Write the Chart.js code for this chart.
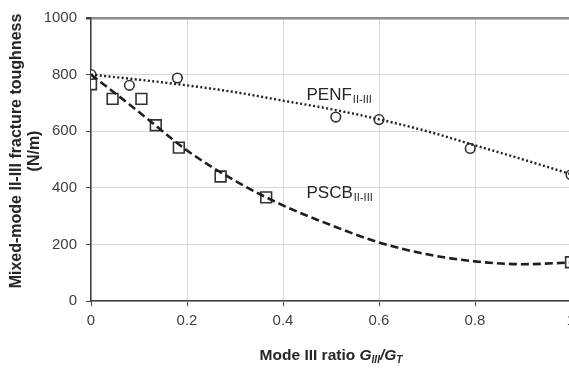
<!DOCTYPE html>
<html>
<head>
<meta charset="utf-8">
<script src="https://cdn.jsdelivr.net/npm/chart.js@4/dist/chart.umd.min.js"></script>
<style>
  html, body { margin: 0; padding: 0; background: #fff; }
  #wrap { width: 569px; height: 368px; overflow: hidden; }
</style>
</head>
<body>
<div id="wrap"><canvas id="chart" width="600" height="368"></canvas></div>
<script>
// measured points
const penfX = [0, 0.08, 0.18, 0.51, 0.60, 0.79, 1.0];
const penfY = [800, 762, 788, 650, 641, 539, 446];
const pscbX = [0, 0.045, 0.105, 0.135, 0.183, 0.27, 0.365, 1.0];
const pscbY = [766, 714, 714, 621, 542, 440, 366, 137];

// trend curves
const trendX = [0, 0.1, 0.2, 0.3, 0.4, 0.5, 0.6, 0.7, 0.8, 0.9, 1.0];
const penfTrend = [800, 782, 762, 738, 708, 678, 642, 600, 550, 500, 448];
const pscbTrend = [800, 668, 532, 425, 338, 268, 207, 165, 140, 130, 136];

const xTicks = [0, 0.2, 0.4, 0.6, 0.8, 1];
const yTicks = [0, 200, 400, 600, 800, 1000];

const seriesNames = ['PENF', 'PSCB'];
const subscript = 'II-III';
const yTitle = ['Mixed-mode II-III fracture toughness', '(N/m)'];

const FONT = 'Arial, "Liberation Sans", sans-serif';
const labelAt = [[0.449, 710], [0.449, 364]];

const toPts = (xs, ys) => xs.map((x, i) => ({ x, y: ys[i] }));

const annotate = {
  id: 'annotate',
  afterDraw(chart) {
    const { ctx, scales: { x, y }, chartArea } = chart;
    ctx.save();
    ctx.fillStyle = '#262626';
    ctx.textBaseline = 'alphabetic';
    ctx.textAlign = 'left';
    seriesNames.forEach((name, i) => {
      let px = x.getPixelForValue(labelAt[i][0]);
      const py = y.getPixelForValue(labelAt[i][1]);
      ctx.font = '17px ' + FONT;
      ctx.fillText(name, px, py);
      px += ctx.measureText(name).width + 1;
      ctx.font = '11px ' + FONT;
      ctx.fillText(subscript, px, py + 3);
    });

    // x axis title with italic / subscript parts
    const parts = [
      ['Mode III ratio ', 'bold 15.5px ' + FONT, 0],
      ['G', 'italic bold 15.5px ' + FONT, 0],
      ['III', 'italic bold 10px ' + FONT, 3],
      ['/G', 'italic bold 15.5px ' + FONT, 0],
      ['T', 'italic bold 10px ' + FONT, 3]
    ];
    let total = 0;
    parts.forEach(p => { ctx.font = p[1]; total += ctx.measureText(p[0]).width; });
    let tx = (chartArea.left + chartArea.right) / 2 - total / 2;
    parts.forEach(p => {
      ctx.font = p[1];
      ctx.fillText(p[0], tx, 360 + p[2]);
      tx += ctx.measureText(p[0]).width;
    });

    // y axis title, two rotated lines
    ctx.font = 'bold 16px ' + FONT;
    ctx.textAlign = 'center';
    ctx.textBaseline = 'middle';
    yTitle.forEach((line, i) => {
      ctx.save();
      ctx.translate(17 + i * 18, 151);
      ctx.rotate(-Math.PI / 2);
      ctx.fillText(line, 0, 0);
      ctx.restore();
    });
    ctx.restore();
  }
};

new Chart(document.getElementById('chart'), {
  type: 'scatter',
  data: {
    datasets: [
      {
        label: 'PENF trend',
        data: toPts(trendX, penfTrend),
        showLine: true,
        borderColor: '#222',
        borderWidth: 2.4,
        borderDash: [2, 2.4],
        pointRadius: 0,
        cubicInterpolationMode: 'monotone'
      },
      {
        label: 'PSCB trend',
        data: toPts(trendX, pscbTrend),
        showLine: true,
        borderColor: '#1e1e1e',
        borderWidth: 2.6,
        borderDash: [8, 4],
        pointRadius: 0,
        cubicInterpolationMode: 'monotone'
      },
      {
        label: 'PENF',
        data: toPts(penfX, penfY),
        pointStyle: 'circle',
        pointRadius: 4.8,
        backgroundColor: '#fff',
        borderColor: '#333',
        borderWidth: 1.6
      },
      {
        label: 'PSCB',
        data: toPts(pscbX, pscbY),
        pointStyle: 'rect',
        pointRadius: 7.6,
        backgroundColor: '#fff',
        borderColor: '#333',
        borderWidth: 1.6
      }
    ]
  },
  options: {
    responsive: false,
    animation: false,
    devicePixelRatio: 1,
    layout: { padding: { top: 15, right: 29, left: 0, bottom: 0 } },
    plugins: {
      legend: { display: false },
      tooltip: { enabled: false }
    },
    scales: {
      x: {
        type: 'linear',
        min: 0,
        max: 1,
        afterBuildTicks: s => { s.ticks = xTicks.map(v => ({ value: v })); },
        afterFit: s => { s.height = 67; },
        border: { color: '#404040', width: 1.5 },
        grid: { color: '#d9d9d9', lineWidth: 1, tickLength: 5, tickColor: '#404040' },
        ticks: {
          padding: 6,
          color: '#404040',
          font: { family: FONT, size: 15 },
          callback: v => String(v)
        }
      },
      y: {
        min: 0,
        max: 1000,
        afterBuildTicks: s => { s.ticks = yTicks.map(v => ({ value: v })); },
        afterFit: s => { s.width = 91; },
        border: { color: '#404040', width: 1.5 },
        grid: {
          color: c => c.tick && c.tick.value === 1000 ? '#8c8c8c' : '#d9d9d9',
          lineWidth: c => c.tick && c.tick.value === 1000 ? 2.5 : 1,
          tickLength: 5,
          tickColor: '#404040'
        },
        ticks: {
          padding: 9,
          color: '#404040',
          font: { family: FONT, size: 15 },
          callback: v => String(v)
        }
      }
    }
  },
  plugins: [annotate]
});
</script>
</body>
</html>
